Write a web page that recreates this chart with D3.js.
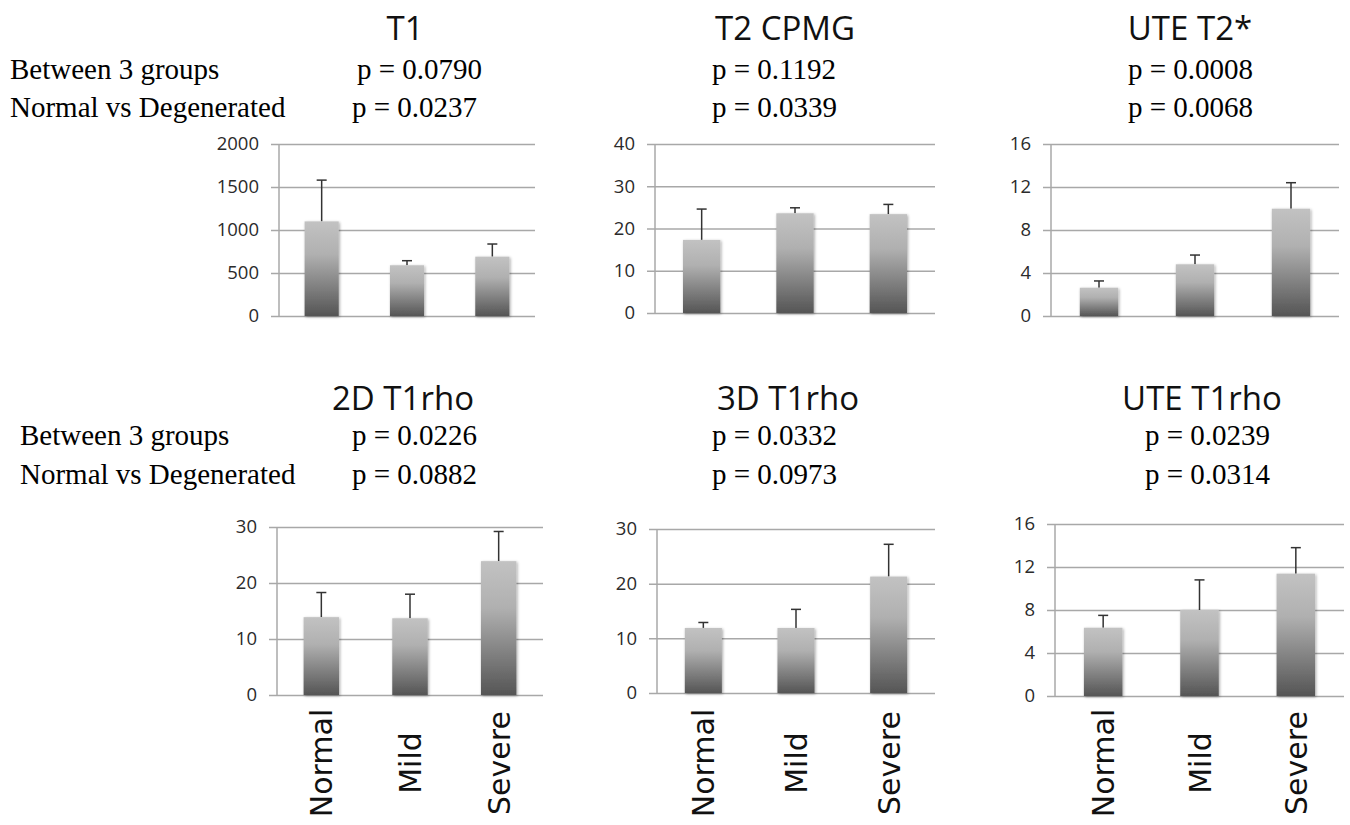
<!DOCTYPE html>
<html>
<head>
<meta charset="utf-8">
<script src="https://cdn.jsdelivr.net/npm/d3@7"></script>
<style>
  body { margin: 0; background: #fff; }
  svg { display: block; }
</style>
</head>
<body>
<div class="chart"></div>
<script>
// groups on the x axis
var categories = ["Normal", "Mild", "Severe"];

// means and (upper) error bars
var t1Means = [1100, 590, 690];
var t1Errors = [480, 53, 147];
var t2Means = [17.3, 23.6, 23.4];
var t2Errors = [7.3, 1.3, 2.3];
var uteT2Means = [2.63, 4.81, 9.98];
var uteT2Errors = [0.63, 0.86, 2.42];
var t1rho2dMeans = [13.9, 13.7, 23.9];
var t1rho2dErrors = [4.4, 4.3, 5.3];
var t1rho3dMeans = [11.9, 11.9, 21.3];
var t1rho3dErrors = [1.0, 3.4, 5.9];
var uteT1rhoMeans = [6.35, 8.0, 11.38];
var uteT1rhoErrors = [1.15, 2.8, 2.42];

// tick labels of each y axis
var t1Ticks = [0, 500, 1000, 1500, 2000];
var t2Ticks = [0, 10, 20, 30, 40];
var uteT2Ticks = [0, 4, 8, 12, 16];
var t1rho2dTicks = [0, 10, 20, 30];
var t1rho3dTicks = [0, 10, 20, 30];
var uteT1rhoTicks = [0, 4, 8, 12, 16];

// titles and p values
var titles = ["T1", "T2 CPMG", "UTE T2*", "2D T1rho", "3D T1rho", "UTE T1rho"];
var pBetween = ["p = 0.0790", "p = 0.1192", "p = 0.0008", "p = 0.0226", "p = 0.0332", "p = 0.0239"];
var pNormalVsDeg = ["p = 0.0237", "p = 0.0339", "p = 0.0068", "p = 0.0882", "p = 0.0973", "p = 0.0314"];

var svgWidth = 1350;
var svgHeight = 825;

var svg = d3.select(".chart")
  .append("svg")
  .attr("width", svgWidth)
  .attr("height", svgHeight);

var defs = svg.append("defs");

var grad = defs.append("linearGradient")
  .attr("id", "barGrad")
  .attr("x1", 0).attr("y1", 0)
  .attr("x2", 0).attr("y2", 1);
grad.append("stop").attr("offset", "0%").attr("stop-color", "#c2c2c2");
grad.append("stop").attr("offset", "35%").attr("stop-color", "#b0b0b0");
grad.append("stop").attr("offset", "100%").attr("stop-color", "#555555");

var shadow = defs.append("filter")
  .attr("id", "soft")
  .attr("x", "-20%").attr("y", "-10%")
  .attr("width", "140%").attr("height", "120%");
shadow.append("feGaussianBlur").attr("in", "SourceAlpha").attr("stdDeviation", 1.5).attr("result", "b");
shadow.append("feOffset").attr("in", "b").attr("dx", 0.5).attr("dy", 0.5).attr("result", "o");
shadow.append("feComponentTransfer").attr("in", "o").attr("result", "s")
  .append("feFuncA").attr("type", "linear").attr("slope", 0.35);
var merge = shadow.append("feMerge");
merge.append("feMergeNode").attr("in", "s");
merge.append("feMergeNode").attr("in", "SourceGraphic");

// panel layout (plot area in pixels)
var panels = [
  { means: t1Means, errors: t1Errors, ticks: t1Ticks, x0: 279, x1: 535, yTop: 144, yBot: 316, titleX: 405, row: 0 },
  { means: t2Means, errors: t2Errors, ticks: t2Ticks, x0: 655, x1: 935, yTop: 144, yBot: 313, titleX: 785, row: 0 },
  { means: uteT2Means, errors: uteT2Errors, ticks: uteT2Ticks, x0: 1051, x1: 1339, yTop: 144, yBot: 316, titleX: 1190, row: 0 },
  { means: t1rho2dMeans, errors: t1rho2dErrors, ticks: t1rho2dTicks, x0: 277, x1: 543, yTop: 527, yBot: 695, titleX: 403, row: 1 },
  { means: t1rho3dMeans, errors: t1rho3dErrors, ticks: t1rho3dTicks, x0: 657, x1: 935, yTop: 529, yBot: 693, titleX: 788, row: 1 },
  { means: uteT1rhoMeans, errors: uteT1rhoErrors, ticks: uteT1rhoTicks, x0: 1055, x1: 1344, yTop: 524, yBot: 696, titleX: 1202, row: 1 }
];

// text positions
var rowTitleY = [40, 410];
var rowLine1Y = [79, 445];
var rowLine2Y = [117, 484];
var pX = [[357, 712, 1128], [352, 712, 1145]];
var pX2 = [[352, 712, 1128], [352, 712, 1145]];
var leftX = [10, 20];

var serif = "'Liberation Serif', 'Times New Roman', serif";
var sans = "'Open Sans', 'Noto Sans', sans-serif";
var serifSize = 29;

[0, 1].forEach(function(r) {
  svg.append("text")
    .attr("x", leftX[r]).attr("y", rowLine1Y[r])
    .attr("font-family", serif).attr("font-size", serifSize)
    .text("Between 3 groups");
  svg.append("text")
    .attr("x", leftX[r]).attr("y", rowLine2Y[r])
    .attr("font-family", serif).attr("font-size", serifSize)
    .text("Normal vs Degenerated");
});

panels.forEach(function(p, i) {
  var col = i % 3;
  var yMax = p.ticks[p.ticks.length - 1];

  var x = d3.scaleBand()
    .domain(categories)
    .range([p.x0, p.x1])
    .paddingInner(0.6)
    .paddingOuter(0.3);

  var y = d3.scaleLinear()
    .domain([0, yMax])
    .range([p.yBot, p.yTop]);

  // title and p values
  svg.append("text")
    .attr("x", p.titleX).attr("y", rowTitleY[p.row])
    .attr("text-anchor", "middle")
    .attr("font-family", sans).attr("font-size", 33)
    .attr("fill", "#111")
    .text(titles[i]);
  svg.append("text")
    .attr("x", pX[p.row][col]).attr("y", rowLine1Y[p.row])
    .attr("font-family", serif).attr("font-size", serifSize)
    .text(pBetween[i]);
  svg.append("text")
    .attr("x", pX2[p.row][col]).attr("y", rowLine2Y[p.row])
    .attr("font-family", serif).attr("font-size", serifSize)
    .text(pNormalVsDeg[i]);

  var chart = svg.append("g");

  // gridlines, starting 8px left of the axis (small outside ticks)
  var yAxis = d3.axisLeft(y)
    .tickValues(p.ticks)
    .tickSize(-(p.x1 - p.x0) - 8)
    .tickPadding(12)
    .tickFormat(d3.format("d"));

  var gAxis = chart.append("g")
    .attr("transform", "translate(" + (p.x0 - 8) + ",0)")
    .call(yAxis);
  gAxis.select(".domain").remove();
  gAxis.selectAll(".tick line")
    .attr("stroke", "#a8a8a8")
    .attr("stroke-width", 1.5);
  gAxis.selectAll(".tick text")
    .attr("font-family", sans)
    .attr("font-size", 18.5)
    .attr("fill", "#2b2b2b");

  // vertical axis line
  chart.append("line")
    .attr("x1", p.x0).attr("x2", p.x0)
    .attr("y1", y(yMax)).attr("y2", y(0))
    .attr("stroke", "#a8a8a8")
    .attr("stroke-width", 1.5);

  // error bars (upper only)
  var errs = chart.selectAll(".err")
    .data(categories)
    .enter().append("g");
  errs.append("line")
    .attr("x1", function(d) { return x(d) + x.bandwidth() / 2; })
    .attr("x2", function(d) { return x(d) + x.bandwidth() / 2; })
    .attr("y1", function(d, k) { return y(p.means[k]); })
    .attr("y2", function(d, k) { return y(p.means[k] + p.errors[k]); })
    .attr("stroke", "#333")
    .attr("stroke-width", 1.5);
  errs.append("line")
    .attr("x1", function(d) { return x(d) + x.bandwidth() / 2 - 5; })
    .attr("x2", function(d) { return x(d) + x.bandwidth() / 2 + 5; })
    .attr("y1", function(d, k) { return y(p.means[k] + p.errors[k]); })
    .attr("y2", function(d, k) { return y(p.means[k] + p.errors[k]); })
    .attr("stroke", "#333")
    .attr("stroke-width", 1.5);

  // bars
  chart.selectAll(".bar")
    .data(categories)
    .enter().append("rect")
      .attr("x", function(d) { return x(d); })
      .attr("y", function(d, k) { return y(p.means[k]); })
      .attr("width", x.bandwidth())
      .attr("height", function(d, k) { return y(0) - y(p.means[k]); })
      .attr("fill", "url(#barGrad)")
      .attr("filter", "url(#soft)");

  // category labels on the bottom row only
  if (p.row === 1) {
    chart.selectAll(".cat")
      .data(categories)
      .enter().append("text")
        .attr("transform", function(d) {
          return "translate(" + (x(d) + x.bandwidth() / 2 + 11) + ",763) rotate(-90)";
        })
        .attr("text-anchor", "middle")
        .attr("font-family", "'DejaVu Sans', sans-serif")
        .attr("font-size", 30)
        .attr("fill", "#111")
        .text(function(d) { return d; });
  }
});
</script>
</body>
</html>
